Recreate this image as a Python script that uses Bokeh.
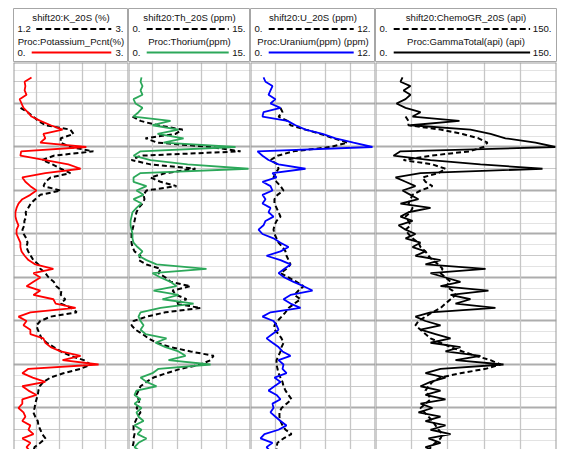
from bokeh.plotting import figure
from bokeh.layouts import row, column
from bokeh.models import Range1d, Grid, FixedTicker, Span
from bokeh.core.properties import value
from bokeh.embed import file_html
from bokeh.resources import INLINE

# ---------------- data (depth in ft, sampled every 2 ft) ----------------
DEPTH = list(range(5008, 5181, 2))          # 87 samples, 5008 .. 5180

# Track 1 : Proc:Potassium_Pcnt(%)  (solid red), shift20:K_20S (%) (dashed)
K_PCT = [0.47, 0.29, 0.31, 0.29, 0.34, 0.16, 0.21, 0.26, 0.37, 0.47,
         0.70, 0.97, 1.28, 0.78, 0.83, 0.70, 1.90, 0.20, 0.18, 0.83,
         1.43, 1.75, 0.83, 0.23, 0.31, 0.44, 0.60, 0.44, 0.23, 0.13,
         0.08, 0.05, 0.05, 0.08, 0.13, 0.08, 0.08, 0.13, 0.18, 0.18,
         0.21, 0.29, 0.39, 0.57, 1.04, 0.52, 0.70, 0.52, 0.34, 0.70,
         0.52, 1.04, 1.10, 1.62, 0.44, 0.13, 0.34, 0.26, 0.44, 0.44,
         0.78, 0.83, 0.97, 1.23, 1.75, 1.28, 2.22, 0.39, 0.23, 0.50,
         0.83, 0.23, 0.39, 0.60, 0.23, 0.23, 0.13, 0.26, 0.31, 0.23,
         0.44, 0.39, 0.52, 0.23, 0.44, 0.34, 0.44]
K_20S_START = 5022
K_20S = [1.31, 1.42, 1.51, 1.59, 1.70, 2.09, 2.14, 1.94, 1.94, 2.09,
         2.45, 1.83, 1.65, 1.81, 1.94, 2.09, 1.78, 1.70, 1.67, 1.94,
         1.62, 1.54, 1.47, 1.43, 1.39, 1.40, 1.37, 1.37, 1.34, 1.36,
         1.40, 1.42, 1.40, 1.43, 1.47, 1.51, 1.59, 1.62, 1.70, 1.75,
         1.83, 1.87, 1.95, 1.94, 2.01, 1.94, 2.11, 2.19, 1.78, 1.62,
         1.56, 1.58, 1.61, 1.64, 1.72, 1.83, 1.94, 2.09, 2.30, 2.41,
         2.25, 1.98, 1.78, 1.67, 1.61, 1.59, 1.58, 1.56, 1.54, 1.53,
         1.51, 1.54, 1.58, 1.59, 1.62, 1.65, 1.70, 1.62, 1.53, 1.51]

# Track 2 : Proc:Thorium(ppm) (solid green), shift20:Th_20S (ppm) (dashed)
TH_PPM = [1.60, 1.48, 1.72, 1.48, 1.72, 0.62, 0.86, 1.72, 1.23, 0.62,
          5.17, 2.95, 6.15, 3.57, 6.77, 4.31, 13.16, 1.48, 0.62, 2.71,
          7.26, 14.76, 1.48, 0.62, 0.62, 2.21, 0.98, 1.85, 0.62, 1.60,
          0.98, 0.49, 0.37, 0.25, 0.25, 0.37, 0.49, 0.49, 0.62, 1.11,
          1.72, 1.23, 2.21, 3.44, 9.59, 2.95, 3.94, 5.17, 5.90, 3.08,
          6.15, 4.18, 8.00, 3.94, 1.48, 1.23, 1.48, 1.85, 1.48, 2.09,
          4.67, 3.32, 4.55, 6.15, 7.01, 4.92, 10.09, 3.69, 2.95, 1.48,
          2.21, 3.44, 0.98, 0.74, 1.48, 0.74, 1.60, 0.98, 1.23, 1.85,
          0.74, 1.60, 1.11, 2.21, 1.23, 0.74, 1.48]
TH_20S_START = 5026
TH_20S = [0.49, 1.48, 3.57, 6.64, 5.78, 2.09, 3.57, 10.09, 13.78, 1.48,
          0.37, 2.71, 8.24, 4.55, 2.71, 3.94, 5.90, 2.21, 1.85, 1.97,
          1.72, 1.23, 0.98, 0.86, 0.74, 0.62, 0.49, 0.37, 0.37, 0.37,
          0.49, 0.74, 1.48, 1.23, 2.21, 3.94, 3.69, 4.55, 5.17, 7.63,
          5.41, 5.90, 7.13, 5.78, 8.86, 4.55, 2.21, 0.62, 0.37, 0.86,
          1.72, 2.46, 3.44, 5.17, 7.63, 10.46, 10.09, 8.86, 6.40, 4.67,
          3.08, 2.21, 1.48, 1.23, 0.98, 1.23, 1.35, 0.98, 1.48, 1.11,
          0.86, 0.62, 0.62, 0.74, 0.62, 0.62, 0.49, 0.49]

# Track 3 : Proc:Uranium(ppm) (solid blue), shift20:U_20S (ppm) (dashed)
U_PPM = [1.25, 1.44, 2.11, 1.92, 1.73, 2.40, 1.92, 2.88, 1.25, 1.15,
         3.55, 4.32, 5.28, 6.91, 8.16, 9.89, 11.71, 0.67, 1.15, 1.73,
         2.69, 5.28, 2.11, 2.50, 1.15, 1.92, 2.11, 1.15, 1.44, 1.15,
         1.92, 1.73, 2.21, 1.44, 1.25, 0.77, 1.15, 2.21, 2.88, 3.65,
         2.88, 1.54, 2.88, 3.84, 3.26, 2.69, 3.26, 4.13, 5.09, 5.95,
         3.84, 3.17, 3.84, 4.80, 1.92, 1.15, 2.21, 2.50, 2.69, 2.11,
         1.54, 2.11, 2.69, 3.07, 3.84, 2.69, 3.17, 3.07, 3.46, 2.30,
         2.88, 2.30, 1.73, 2.50, 2.88, 2.11, 2.21, 1.92, 2.40, 2.88,
         3.46, 2.69, 1.34, 0.96, 2.11, 1.54, 1.92]
U_20S_START = 5022
U_20S = [2.88, 3.07, 2.69, 3.55, 3.84, 5.28, 6.72, 7.97, 9.31, 7.68,
         4.13, 2.59, 1.92, 2.59, 2.69, 2.40, 2.21, 2.50, 2.88, 3.17,
         2.59, 2.30, 2.30, 2.50, 2.69, 2.88, 2.50, 2.30, 2.21, 2.30,
         2.50, 2.69, 3.07, 3.36, 3.46, 3.65, 3.84, 3.46, 2.88, 3.65,
         4.42, 5.09, 4.61, 4.22, 4.80, 4.22, 3.65, 3.36, 2.98, 2.59,
         2.30, 2.30, 2.69, 2.98, 3.17, 2.98, 2.88, 2.69, 2.50, 2.50,
         2.59, 2.69, 2.88, 3.07, 3.17, 3.36, 3.65, 3.94, 3.46, 2.98,
         2.78, 2.78, 2.88, 3.07, 3.36, 3.94, 3.17, 2.59, 2.50, 2.50]

# Track 4 : Proc:GammaTotal(api) (solid black), shift20:ChemoGR_20S (api) (dashed)
GR_API = [22.4, 20.7, 29.0, 23.2, 29.0, 24.9, 17.4, 24.9, 37.3, 30.7,
          69.6, 29.0, 78.7, 95.3, 107.7, 132.6, 149.2, 20.7, 14.9, 45.6,
          87.0, 138.4, 37.3, 16.6, 24.9, 33.1, 22.4, 29.0, 35.6, 20.7,
          45.6, 27.3, 20.7, 30.7, 19.1, 24.9, 33.1, 24.9, 37.3, 30.7,
          41.4, 33.1, 53.9, 41.4, 91.2, 45.6, 58.0, 70.4, 53.9, 93.6,
          62.2, 78.7, 66.3, 99.4, 45.6, 33.1, 41.4, 53.9, 37.3, 49.7,
          62.2, 45.6, 70.4, 58.0, 87.0, 66.3, 106.1, 53.9, 41.4, 58.0,
          45.6, 37.3, 53.9, 41.4, 58.0, 37.3, 47.2, 35.6, 53.9, 41.4,
          58.0, 45.6, 62.2, 43.9, 53.9, 41.4, 49.7]
GR_20S_START = 5026
GR_20S = [24.9, 27.3, 27.3, 53.9, 72.1, 85.4, 92.8, 89.5, 77.9, 45.6,
          23.2, 47.2, 58.0, 52.2, 38.9, 41.4, 47.2, 37.3, 30.7, 29.0,
          27.3, 30.7, 29.0, 24.9, 27.3, 29.0, 24.9, 27.3, 30.7, 35.6,
          37.3, 41.4, 43.9, 47.2, 52.2, 55.5, 53.9, 58.0, 62.2, 58.0,
          63.8, 66.3, 62.2, 58.0, 53.9, 47.2, 41.4, 35.6, 33.1, 37.3,
          41.4, 45.6, 53.9, 62.2, 72.1, 82.9, 95.3, 103.6, 91.2, 70.4,
          53.9, 47.2, 43.9, 41.4, 43.9, 45.6, 41.4, 37.3, 40.6, 43.9,
          47.2, 49.7, 52.2, 55.5, 53.9, 49.7, 45.6, 43.9]

# header texts and scale labels
DASHED_TITLES = ["shift20:K_20S (%)", "shift20:Th_20S (ppm)",
                 "shift20:U_20S (ppm)", "shift20:ChemoGR_20S (api)"]
SOLID_TITLES = ["Proc:Potassium_Pcnt(%)", "Proc:Thorium(ppm)",
                "Proc:Uranium(ppm) (ppm)", "Proc:GammaTotal(api) (api)"]
DASHED_SCALE = [(1.2, 3.0), (0.0, 15.0), (0.0, 12.0), (0.0, 150.0)]
SOLID_SCALE = [(0.0, 3.0), (0.0, 15.0), (0.0, 12.0), (0.0, 150.0)]
DASHED_LABELS = [("1.2", "3."), ("0.", "15."), ("0.", "12."), ("0.", "150.")]
SOLID_LABELS = [("0.", "3."), ("0.", "15."), ("0.", "12."), ("0.", "150.")]
SOLID_COLORS = ["#ff0000", "#2ca85a", "#0000ff", "#000000"]

SOLID_DATA = [K_PCT, TH_PPM, U_PPM, GR_API]
DASHED_DATA = [(K_20S_START, K_20S), (TH_20S_START, TH_20S),
               (U_20S_START, U_20S), (GR_20S_START, GR_20S)]

# ---------------- layout ----------------
FRAME_W = [115, 122, 125, 181]
BORDER_L = [13, 0, 0, 0]
BORDER_R = [0, 0, 0, 1]
HEAD_TOP = 8
HEAD_H = 54
BODY_H = 387
DEPTH_TOP = 5001.15
DEPTH_BOTTOM = DEPTH_TOP + BODY_H / 2.175

FONT = "Liberation Sans"
FS = "9.6px"
BORDER_COLOR = "#9c9c9c"

MINOR = [d for d in range(5005, 5181, 10)]
MEDIUM = [d for d in range(5010, 5181, 20)]
HEAVY = [d for d in range(5020, 5181, 20)]


def base_fig(i, height, xr, yr, outline, top=0):
    return figure(width=FRAME_W[i] + BORDER_L[i] + BORDER_R[i], height=height + top,
                  x_range=xr, y_range=yr, x_axis_type=None, y_axis_type=None,
                  output_backend="svg", toolbar_location=None, tools="",
                  min_border=0, min_border_left=BORDER_L[i], min_border_right=BORDER_R[i],
                  min_border_top=top, min_border_bottom=0,
                  outline_line_color=outline, outline_line_width=1,
                  background_fill_color="white", border_fill_color="white")


def make_header(i):
    fw = FRAME_W[i]
    p = base_fig(i, HEAD_H, Range1d(0, fw), Range1d(HEAD_H, 0), "#a6a6a6", top=HEAD_TOP)
    txt = dict(text_font=value(FONT), text_font_size=FS, text_color="#111111",
               text_baseline="middle")
    p.text(x=[fw / 2], y=[9], text=[DASHED_TITLES[i]], text_align="center", **txt)
    p.text(x=[fw / 2], y=[33], text=[SOLID_TITLES[i]], text_align="center", **txt)
    for yy, labels, dash, color in ((20.5, DASHED_LABELS[i], "6 3", "#000000"),
                                    (44, SOLID_LABELS[i], "solid", SOLID_COLORS[i])):
        left, right = labels
        p.text(x=[4], y=[yy], text=[left], text_align="left", **txt)
        p.text(x=[fw - 5], y=[yy], text=[right], text_align="right", **txt)
        x0 = 4 + 4.6 * len(left) + 5
        x1 = fw - 5 - 4.6 * len(right) - 3
        p.line(x=[x0, x1], y=[yy, yy], line_color=color, line_width=2.2, line_dash=dash)
    return p


def make_body(i):
    lo, hi = SOLID_SCALE[i]
    p = base_fig(i, BODY_H, Range1d(lo, hi), Range1d(DEPTH_BOTTOM, DEPTH_TOP), None)
    p.add_layout(Grid(dimension=1, ticker=FixedTicker(ticks=MINOR),
                      grid_line_color="#e3e3e3", grid_line_width=1))
    p.add_layout(Grid(dimension=1, ticker=FixedTicker(ticks=MEDIUM),
                      grid_line_color="#c9c9c9", grid_line_width=1))
    p.add_layout(Grid(dimension=1, ticker=FixedTicker(ticks=HEAVY),
                      grid_line_color="#adadad", grid_line_width=2.2))
    step = (hi - lo) / 5
    p.add_layout(Grid(dimension=0, ticker=FixedTicker(ticks=[lo + step * k for k in range(1, 5)]),
                      grid_line_color="#c6c6c6", grid_line_width=1.3))

    # dashed curve (own scale)
    dlo, dhi = DASHED_SCALE[i]
    start, vals = DASHED_DATA[i]
    idx = DEPTH.index(start)
    dep = DEPTH[idx:idx + len(vals)]
    if (dlo, dhi) != (lo, hi):
        p.extra_x_ranges = {"dashed": Range1d(dlo, dhi)}
        p.line(x=vals, y=dep, x_range_name="dashed", line_color="black",
               line_width=2, line_dash="5 3")
    else:
        p.line(x=vals, y=dep, line_color="black", line_width=2, line_dash="5 3")

    # solid curve
    p.line(x=SOLID_DATA[i], y=DEPTH, line_color=SOLID_COLORS[i], line_width=1.8)

    # track borders
    p.add_layout(Span(location=lo, dimension="height", line_color=BORDER_COLOR, line_width=2))
    p.add_layout(Span(location=hi, dimension="height", line_color=BORDER_COLOR, line_width=2))
    p.add_layout(Span(location=DEPTH_TOP, dimension="width", line_color=BORDER_COLOR, line_width=2))
    return p


cols = [column(make_header(i), make_body(i), spacing=0) for i in range(4)]
layout = row(*cols, spacing=0)

open("out.html", "w").write(file_html(layout, INLINE))
